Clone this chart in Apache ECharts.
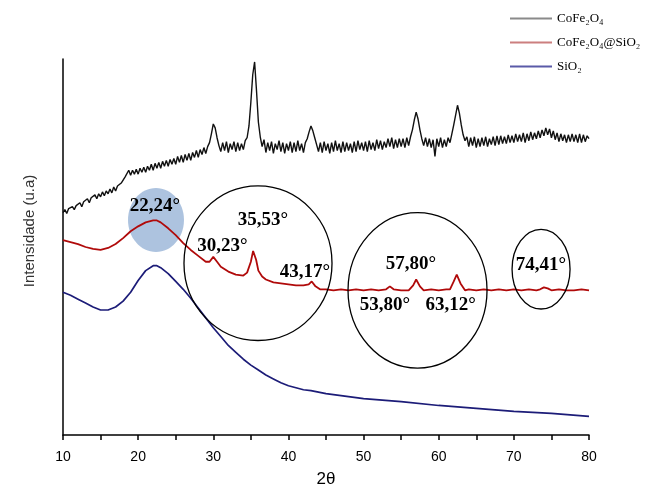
<!DOCTYPE html>
<html>
<head>
<meta charset="utf-8">
<script src="https://cdn.jsdelivr.net/npm/echarts@6/dist/echarts.min.js"></script>
<style>
  html, body { margin: 0; background: #fff; }
  #chart { width: 647px; height: 493px; }
</style>
</head>
<body>
<div id="chart"></div>
<script>
// DRX - intensidades (u.a.)
const seriesNames = ["CoFe₂O₄", "CoFe₂O₄@SiO₂", "SiO₂"];
const xTicks = [10, 20, 30, 40, 50, 60, 70, 80];

// CoFe2O4: amostrado a cada 0,25° de 10 a 80 (uma linha por grau)
const blackIntensity = [
  226, 229, 225, 230,
  228, 232, 229, 233,
  231, 236, 232, 237,
  235, 240, 236, 241,
  239, 244, 240, 245,
  242, 247, 243, 248,
  245, 250, 246, 252,
  248, 253, 251, 256,
  256, 262, 263, 269,
  264, 269, 265, 270,
  265, 271, 267, 272,
  267, 273, 269, 275,
  269, 276, 271, 277,
  271, 278, 273, 279,
  273, 280, 275, 281,
  275, 283, 277, 284,
  277, 285, 279, 286,
  279, 287, 282, 289,
  282, 290, 285, 292,
  286, 293, 297, 306,
  316, 312, 302, 294,
  288, 297, 289, 298,
  287, 296, 290, 298,
  288, 297, 289, 296,
  290, 299, 302, 314,
  338, 366, 379, 350,
  318, 303, 293, 300,
  287, 297, 289, 298,
  286, 296, 290, 299,
  288, 297, 286, 296,
  289, 298, 287, 297,
  288, 299, 289, 296,
  287, 297, 301, 308,
  314, 309, 302, 295,
  288, 297, 287, 298,
  289, 296, 286, 297,
  288, 299, 289, 296,
  287, 298, 288, 297,
  289, 296, 287, 298,
  288, 299, 290, 297,
  289, 298, 288, 299,
  290, 297, 289, 300,
  291, 299, 290, 298,
  292, 301, 293, 302,
  291, 300, 292, 301,
  293, 301, 292, 302,
  294, 303, 310, 320,
  328, 321, 310, 301,
  294, 302, 293, 301,
  292, 300, 283, 301,
  293, 302, 292, 300,
  293, 302, 297, 306,
  315, 325, 335, 327,
  315, 305, 299, 303,
  293, 302, 294, 303,
  292, 301, 293, 302,
  294, 303, 293, 301,
  295, 303, 294, 304,
  295, 304, 296, 303,
  296, 305, 297, 304,
  297, 306, 298, 305,
  298, 307, 297, 306,
  299, 308, 300, 307,
  301, 309, 302, 310,
  304, 312, 305, 311,
  302, 309, 300, 307,
  298, 306, 299, 305,
  297, 305, 298, 306,
  298, 305, 297, 306,
  297, 305, 298, 304,
  301
];
const blackTheta = blackIntensity.map((_, i) => 10 + i * 0.25);

// CoFe2O4@SiO2
const redTheta = [
  10, 11, 12, 13, 14, 15, 16, 17, 18, 19, 20, 21, 22, 22.5, 23, 24, 25, 26, 27, 28,
  29, 29.5, 30, 30.5, 31, 32, 33, 34, 34.5, 35, 35.3, 35.7, 36, 36.5, 37, 38, 39, 40,
  41, 42, 42.7, 43.1, 43.6, 44.2, 45, 46, 47, 48, 49, 50, 51, 52, 53, 53.5, 54, 55,
  56, 56.6, 57, 57.5, 58, 59, 60, 61, 61.5, 62, 62.4, 62.9, 63.5, 64, 65, 66, 67, 68,
  69, 70, 71, 72, 73, 73.5, 74, 74.5, 75, 76, 77, 78, 79, 80
];
const redIntensity = [
  198, 196, 194, 191, 189, 188, 190, 194, 200, 207, 212, 216, 218, 218, 216, 210, 203, 195, 188, 182,
  176, 176, 181, 176, 171, 166, 163, 162, 165, 176, 187, 178, 167, 161, 158, 155, 154, 153,
  152, 152, 153, 156, 151, 148, 148, 147, 148, 147, 148, 147, 148, 147, 148, 151, 148, 147,
  147, 152, 158, 151, 147, 148, 147, 148, 148, 156, 163, 154, 147, 148, 147, 148, 147, 148,
  147, 148, 147, 148, 147, 148, 150, 149, 147, 148, 147, 147, 148, 147
];

// SiO2
const blueTheta = [
  10, 11, 12, 13, 14, 15, 16, 17, 18, 19, 20, 21, 22, 22.5, 23, 24, 25, 26, 27, 28,
  29, 30, 31, 32, 33, 34, 35, 36, 37, 38, 39, 40, 41, 42, 43, 45, 47, 50, 55, 60,
  65, 70, 75, 80
];
const blueIntensity = [
  145, 142, 138, 134, 130, 127, 127, 130, 136, 145, 157, 167, 172, 172, 170, 164, 156, 148, 139, 129,
  119, 109, 100, 91, 84, 77, 71, 66, 61, 57, 53, 50, 48, 46, 45, 42, 40, 37, 34, 30,
  27, 24, 22, 19
];

// anotações: [2θ mínimo, 2θ máximo, intensidade mín, intensidade máx]
const ellipses = [
  { box: [18.65, 26.1, 186, 251], fill: "rgba(150,178,214,0.78)", stroke: null },
  { box: [26.1, 45.8, 96, 253], fill: null, stroke: "#000" },
  { box: [47.93, 66.43, 68, 226], fill: null, stroke: "#000" },
  { box: [69.76, 77.48, 128, 209], fill: null, stroke: "#000" }
];
const peakLabels = [
  { text: "22,24°", at: [22.24, 233] },
  { text: "35,53°", at: [36.6, 218] },
  { text: "30,23°", at: [31.2, 192] },
  { text: "43,17°", at: [42.2, 166] },
  { text: "57,80°", at: [56.3, 174] },
  { text: "53,80°", at: [52.85, 132] },
  { text: "63,12°", at: [61.6, 132] },
  { text: "74,41°", at: [73.6, 173] }
];

const toPairs = (xs, ys) => xs.map((x, i) => [x, ys[i]]);

const myChart = echarts.init(document.getElementById("chart"));
const option = {
  animation: false,
  grid: { left: 63, right: 58, top: 59, bottom: 53 },
  legend: {
    orient: "vertical",
    left: 505,
    top: 7,
    icon: "rect",
    itemWidth: 42,
    itemHeight: 2,
    itemGap: 11,
    textStyle: { fontFamily: "Liberation Serif", fontSize: 13, color: "#000", padding: [0, 0, 0, 0] },
    data: [
      { name: seriesNames[0], itemStyle: { color: "#8a8a8a" } },
      { name: seriesNames[1], itemStyle: { color: "#cc7f7f" } },
      { name: seriesNames[2], itemStyle: { color: "#5a5aa8" } }
    ]
  },
  xAxis: {
    type: "value",
    min: 10,
    max: 80,
    interval: 5,
    name: "2θ",
    nameLocation: "middle",
    nameGap: 36,
    nameTextStyle: { fontFamily: "Liberation Sans", fontSize: 17, color: "#000" },
    axisLine: { lineStyle: { color: "#000", width: 1.5 } },
    axisTick: { length: 5, lineStyle: { color: "#000", width: 1.5 } },
    axisLabel: {
      margin: 15,
      fontFamily: "Liberation Sans",
      fontSize: 14,
      color: "#000",
      formatter: (v) => (xTicks.includes(v) ? String(v) : "")
    },
    splitLine: { show: false }
  },
  yAxis: {
    type: "value",
    min: 0,
    max: 382,
    axisLine: { show: true, lineStyle: { color: "#000", width: 1.5 } },
    axisTick: { show: false },
    axisLabel: { show: false },
    splitLine: { show: false }
  },
  series: [
    {
      name: seriesNames[0],
      type: "line",
      symbol: "none",
      data: toPairs(blackTheta, blackIntensity),
      lineStyle: { color: "#111", width: 1.4 },
      itemStyle: { color: "#111" },
      z: 3
    },
    {
      name: seriesNames[1],
      type: "line",
      symbol: "none",
      data: toPairs(redTheta, redIntensity),
      lineStyle: { color: "#b00a0a", width: 1.8 },
      itemStyle: { color: "#b00a0a" },
      z: 3
    },
    {
      name: seriesNames[2],
      type: "line",
      symbol: "none",
      data: toPairs(blueTheta, blueIntensity),
      lineStyle: { color: "#1c1c78", width: 1.7 },
      itemStyle: { color: "#1c1c78" },
      z: 3
    }
  ]
};
myChart.setOption(option);

// elipses e rótulos dos picos, posicionados pelas coordenadas do gráfico
const px = (pt) => myChart.convertToPixel({ gridIndex: 0 }, pt);
const graphics = [];
ellipses.forEach((e) => {
  const a = px([e.box[0], e.box[3]]);
  const b = px([e.box[1], e.box[2]]);
  graphics.push({
    type: "ellipse",
    z: e.fill ? 1 : 20,
    shape: { cx: (a[0] + b[0]) / 2, cy: (a[1] + b[1]) / 2, rx: (b[0] - a[0]) / 2, ry: (b[1] - a[1]) / 2 },
    style: { fill: e.fill || "none", stroke: e.stroke || "none", lineWidth: 1.3 },
    silent: true
  });
});
peakLabels.forEach((p) => {
  const c = px(p.at);
  graphics.push({
    type: "text",
    z: 30,
    x: c[0],
    y: c[1],
    style: {
      text: p.text,
      fill: "#000",
      font: "bold 19px 'Liberation Serif'",
      textAlign: "center",
      textVerticalAlign: "middle"
    },
    silent: true
  });
});
graphics.push({
  type: "text",
  z: 30,
  x: 30,
  y: 231,
  rotation: Math.PI / 2,
  style: {
    text: "Intensidade (u.a)",
    fill: "#333",
    font: "15px 'Liberation Sans'",
    textAlign: "center",
    textVerticalAlign: "middle"
  },
  silent: true
});
myChart.setOption({ graphic: graphics });
</script>
</body>
</html>
